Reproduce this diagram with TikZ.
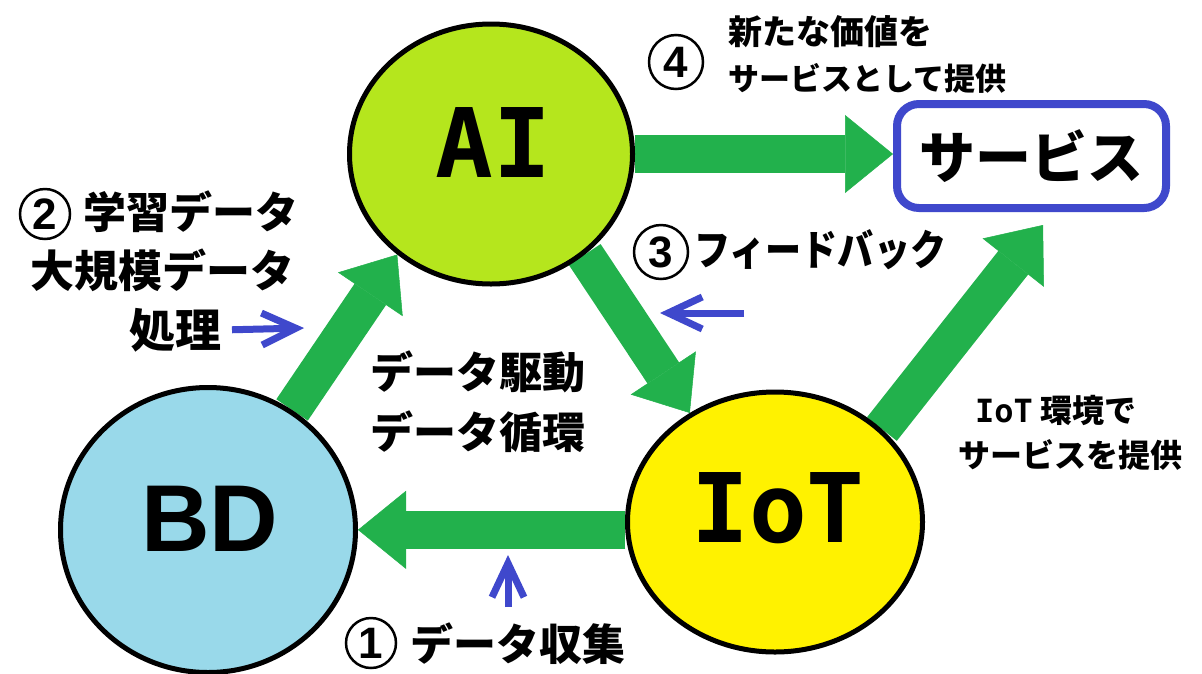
\documentclass[tikz,border=0pt]{standalone}
\usepackage{fontspec}
\setmainfont{Noto Sans CJK JP}
\newfontfamily\monof{DejaVu Sans Mono}
\newfontfamily\arialf{Liberation Sans}
\usetikzlibrary{shapes.geometric,arrows.meta,backgrounds}
\definecolor{gr}{HTML}{22B14C}
\definecolor{lime}{HTML}{B5E61D}
\definecolor{turq}{HTML}{99D9EA}
\definecolor{yel}{HTML}{FFF200}
\definecolor{ind}{HTML}{3F48CC}
\newcommand\jpf[1]{\bfseries\fontsize{#1}{#1}\selectfont}
\begin{document}
\begin{tikzpicture}[x=1pt,y=-1pt,
  garrow/.style={draw=gr, line width=38pt, -{Triangle[length=48pt,width=78pt,line width=0.5pt]}},
  barrow/.style={draw=ind, line width=7pt, -{Straight Barb[length=34pt,width=32pt,line width=7pt]}},
  bubble/.style={ellipse, draw=black, line width=5pt, inner sep=0pt},
  jt/.style={inner sep=0pt, text=black},
  circnum/.style={circle, draw=black, line width=2.5pt, inner sep=0pt, font=\arialf\jpf{44}},
]
\useasboundingbox (0,0) rectangle (1202,673);
% circles
\node[bubble, fill=lime, minimum width=283pt, minimum height=260pt] (AI) at (491,154) {};
\node[bubble, fill=turq, minimum width=295pt, minimum height=285pt] (BD) at (208,530) {};
\node[bubble, fill=yel, minimum width=295pt, minimum height=260pt] (IoT) at (775,522) {};
\node[jt, font=\monof\jpf{96}] (AIt) at (493,143) {AI};
\node[jt, font=\arialf\jpf{95}] (BDt) at (210,519) {BD};
\node[jt, font=\monof\jpf{96}] (IoTt) at (778,508) {IoT};
% service box
\node[draw=ind, line width=8pt, rounded corners=22pt, minimum width=269pt, minimum height=104pt, inner sep=0pt, font=\jpf{56}] (svc) at (1031.5,156) {サービス};
\coordinate (svcTip) at (1043,225);
% green arrows
\begin{pgfonlayer}{background}
\fill[white] (0,0) rectangle (1202,673);
\draw[garrow] (AI.east) -- (AI.east -| svc.west);
\draw[garrow] (BD.55) -- (AI.227);
\draw[garrow] (AI.313) -- (IoT.128);
\draw[garrow] (IoT.41) -- (svcTip);
\draw[garrow] (IoT.183) -- (BD.east |- IoT.183);
\end{pgfonlayer}
% texts
\node[circnum, minimum size=50pt] (n2) at (45,214) {2};
\node[jt, anchor=west, font=\jpf{43}] (t2a) at (83,212) {学習データ};
\node[jt, anchor=west, font=\jpf{44}] (t2b) at (30,270) {大規模データ};
\node[jt, anchor=east, font=\jpf{46}] (t2c) at (222,330) {処理};
\node[jt, anchor=west, font=\jpf{43}] (dd1) at (370,372) {データ駆動};
\node[jt, anchor=west, font=\jpf{43}] (dd2) at (370,432) {データ循環};
\node[circnum, minimum size=50pt] (n1) at (371,643) {1};
\node[jt, anchor=west, font=\jpf{43}] (t1) at (410,644) {データ収集};
\node[circnum, minimum size=54pt] (n3) at (661,252) {3};
\node[jt, anchor=west, font=\jpf{42}] (t3) at (694,250) {\scalebox{0.86}[1]{フィードバック}};
\node[circnum, minimum size=54pt] (n4) at (676,62) {4};
\node[jt, anchor=west, font=\jpf{34}] (t4a) at (728,32) {新たな価値を};
\node[jt, anchor=west, font=\jpf{31}] (t4b) at (728,78) {サービスとして提供};
\node[jt, anchor=west, font=\jpf{32}] (tia) at (975,410) {{\monof IoT} 環境で};
\node[jt, anchor=west, font=\jpf{32}] (tib) at (958,455) {サービスを提供};
% blue arrows
\coordinate (b1e) at (304,328);
\coordinate (fbS) at (744,313);
\coordinate (fbE) at (660,313);
\coordinate (upS) at (508,607);
\coordinate (upE) at (508,555);
\draw[barrow, shorten <=10pt] (t2c.east) -- (b1e);
\draw[barrow] (fbS) -- (fbE);
\draw[barrow] (upS) -- (upE);
\end{tikzpicture}
\end{document}
